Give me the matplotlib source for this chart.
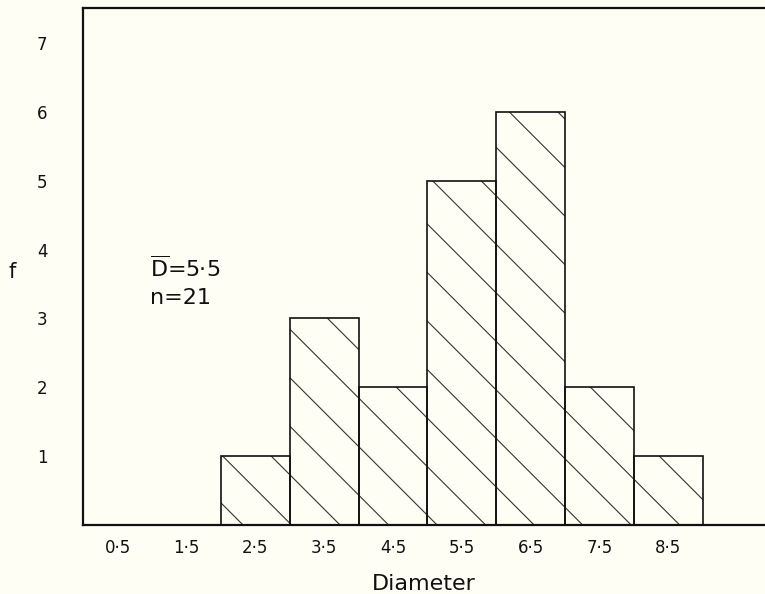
import numpy as np
import matplotlib
matplotlib.use("Agg")
import matplotlib.pyplot as plt
from matplotlib.patches import Rectangle

# Data
bin_left = [2, 3, 4, 5, 6, 7, 8]
freq = [1, 3, 2, 5, 6, 2, 1]
bin_width = 1
xtick_pos = [0.5, 1.5, 2.5, 3.5, 4.5, 5.5, 6.5, 7.5, 8.5]
xtick_labels = ["0·5", "1·5", "2·5", "3·5", "4·5", "5·5", "6·5", "7·5", "8·5"]
ytick_pos = [1, 2, 3, 4, 5, 6, 7]
ytick_labels = ["1", "2", "3", "4", "5", "6", "7"]
mean_label = r"$\overline{\mathrm{D}}$=5·5"
n_label = "n=21"

bg = "#fefef5"
fig = plt.figure(figsize=(7.65, 5.94), dpi=100, facecolor=bg)
ax = fig.add_axes([0.109, 0.1162, 0.891, 0.8703], facecolor=bg)
ax.set_xlim(0, 9.905)
ax.set_ylim(0, 7.51)

bars = ax.bar(bin_left, freq, width=bin_width, align="edge",
              facecolor="none", edgecolor="#111111", linewidth=1.2, zorder=3)

# wide diagonal hatching, continuous across bars, clipped to each bar
offsets = np.arange(2.32, 17.0, 0.705)
for rect in bars:
    for c in offsets:
        xs = np.array([c - 8.0, c])
        ys = c - xs
        ln, = ax.plot(xs, ys, color="#333333", linewidth=0.8, zorder=2)
        ln.set_clip_path(rect)

for side in ["left", "bottom", "top"]:
    ax.spines[side].set_linewidth(1.6)
    ax.spines[side].set_color("#111111")
ax.spines["right"].set_visible(False)

ax.set_xticks(xtick_pos)
ax.set_xticklabels(xtick_labels, fontsize=12)
ax.set_yticks(ytick_pos)
ax.set_yticklabels(ytick_labels, fontsize=12)
ax.tick_params(axis="both", length=0, colors="#111111")
ax.tick_params(axis="x", pad=10)
ax.tick_params(axis="y", pad=26)

ax.set_xlabel("Diameter", fontsize=16, color="#111111", labelpad=12)
fig.text(0.016, 0.542, "f", fontsize=15, color="#111111", ha="center", va="center")

ax.text(0.97, 3.73, mean_label, fontsize=16, color="#111111", ha="left", va="center")
ax.text(0.97, 3.30, n_label, fontsize=16, color="#111111", ha="left", va="center")

fig.savefig("out.png", dpi=100, facecolor=bg)
